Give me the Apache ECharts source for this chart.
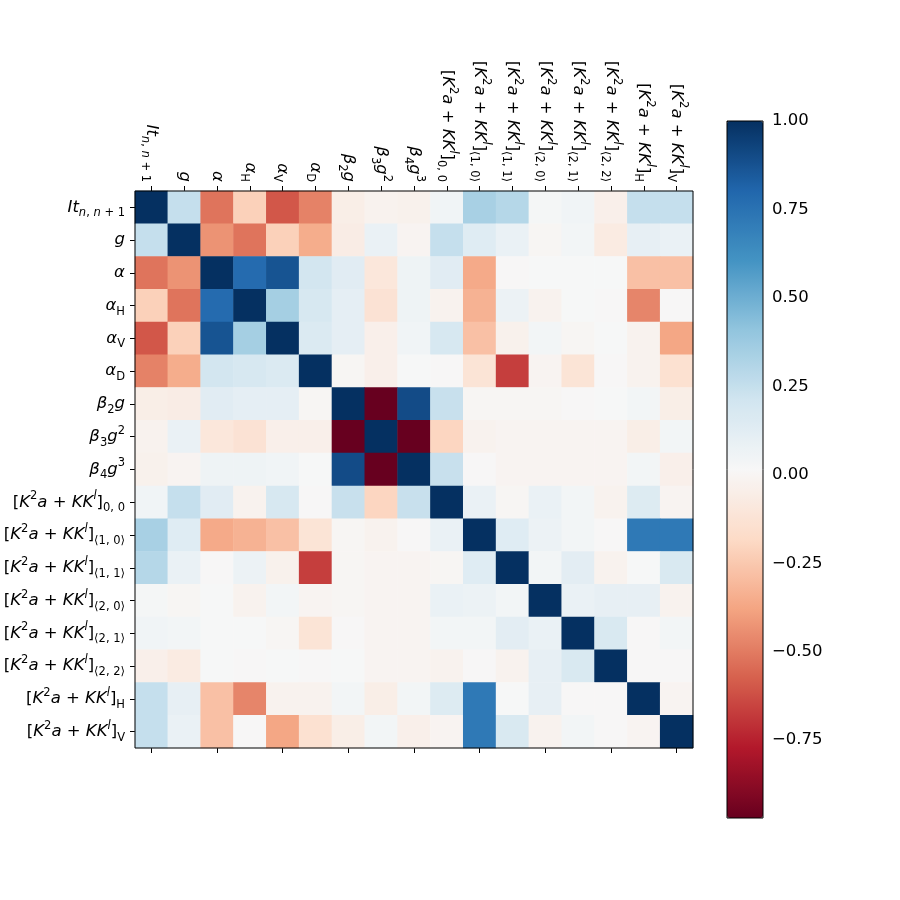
<!DOCTYPE html>
<html>
<head>
<meta charset="utf-8">
<script src="https://cdn.jsdelivr.net/npm/echarts@6/dist/echarts.min.js"></script>
<style>
  html, body { margin: 0; padding: 0; background: #fff; }
  #chart { width: 900px; height: 900px; }
</style>
</head>
<body>
<div id="chart"></div>
<script>
// variable names (row/column order of the matrix)
var categories = ['It', 'g', 'alpha', 'alphaH', 'alphaV', 'alphaD', 'b2g', 'b3g2', 'b4g3',
  'K00', 'K10', 'K11', 'K20', 'K21', 'K22', 'KH', 'KV'];

// tick labels, rich-text markup for the math
var KK = '{r|[}{i|K}{pr|2}{i|a}{r| + }{i|KK}{pi|l}{r|]}';
var tickLabels = [
  '{i|It}{si|n}{sr|, }{si|n}{sr| + 1}',
  '{i|g}',
  '{i|α}',
  '{i|α}{sr|H}',
  '{i|α}{sr|V}',
  '{i|α}{sr|D}',
  '{i|β}{sr|2}{i|g}',
  '{i|β}{sr|3}{i|g}{pr|2}',
  '{i|β}{sr|4}{i|g}{pr|3}',
  KK + '{sr|0, 0}',
  KK + '{sr|⟨1, 0⟩}',
  KK + '{sr|⟨1, 1⟩}',
  KK + '{sr|⟨2, 0⟩}',
  KK + '{sr|⟨2, 1⟩}',
  KK + '{sr|⟨2, 2⟩}',
  KK + '{sr|H}',
  KK + '{sr|V}'
];

// correlation matrix
var row0  = [1, 0.25, -0.52, -0.22, -0.6, -0.48, -0.05, -0.02, -0.03, 0.05, 0.34, 0.3, 0.03, 0.05, -0.04, 0.25, 0.25];
var row1  = [0.25, 1, -0.43, -0.52, -0.22, -0.35, -0.06, 0.08, -0.01, 0.25, 0.14, 0.08, 0.0, 0.04, -0.07, 0.1, 0.08];
var row2  = [-0.52, -0.43, 1, 0.78, 0.87, 0.2, 0.13, -0.1, 0.06, 0.13, -0.36, 0.01, 0.02, 0.02, 0.02, -0.28, -0.28];
var row3  = [-0.22, -0.52, 0.78, 1, 0.35, 0.18, 0.11, -0.13, 0.06, -0.02, -0.33, 0.07, -0.02, 0.02, 0.01, -0.47, 0.01];
var row4  = [-0.6, -0.22, 0.87, 0.35, 1, 0.16, 0.11, -0.04, 0.05, 0.18, -0.28, -0.03, 0.04, 0.0, 0.02, -0.02, -0.37];
var row5  = [-0.48, -0.35, 0.2, 0.18, 0.16, 1, 0.0, -0.04, 0.02, 0.01, -0.12, -0.67, -0.01, -0.12, 0.01, -0.02, -0.14];
var row6  = [-0.05, -0.06, 0.13, 0.11, 0.11, 0.0, 1, -0.97, 0.9, 0.24, 0.0, 0.0, 0.0, 0.01, 0.02, 0.04, -0.05];
var row7  = [-0.02, 0.08, -0.1, -0.13, -0.04, -0.04, -0.97, 1, -0.97, -0.2, -0.02, -0.01, -0.01, -0.01, -0.01, -0.05, 0.04];
var row8  = [-0.03, -0.01, 0.06, 0.06, 0.05, 0.02, 0.9, -0.97, 1, 0.24, 0.01, -0.01, -0.01, -0.01, -0.01, 0.04, -0.04];
var row9  = [0.05, 0.25, 0.13, -0.02, 0.18, 0.01, 0.24, -0.2, 0.24, 1, 0.08, 0.0, 0.08, 0.04, -0.02, 0.15, -0.01];
var row10 = [0.34, 0.14, -0.36, -0.33, -0.28, -0.12, 0.0, -0.02, 0.01, 0.08, 1, 0.14, 0.07, 0.04, 0.01, 0.72, 0.72];
var row11 = [0.3, 0.08, 0.01, 0.07, -0.03, -0.67, 0.0, -0.01, -0.01, 0.0, 0.14, 1, 0.04, 0.12, -0.02, 0.02, 0.17];
var row12 = [0.03, 0.0, 0.02, -0.02, 0.04, -0.01, 0.0, -0.01, -0.01, 0.08, 0.07, 0.04, 1, 0.08, 0.1, 0.1, -0.02];
var row13 = [0.05, 0.04, 0.02, 0.02, 0.0, -0.12, 0.01, -0.01, -0.01, 0.04, 0.04, 0.12, 0.08, 1, 0.17, 0.01, 0.04];
var row14 = [-0.04, -0.07, 0.02, 0.01, 0.02, 0.01, 0.02, -0.01, -0.01, -0.02, 0.01, -0.02, 0.1, 0.17, 1, 0.01, 0.01];
var row15 = [0.25, 0.1, -0.28, -0.47, -0.02, -0.02, 0.04, -0.05, 0.04, 0.15, 0.72, 0.02, 0.1, 0.01, 0.01, 1, -0.01];
var row16 = [0.25, 0.08, -0.28, 0.01, -0.37, -0.14, -0.05, 0.04, -0.04, -0.01, 0.72, 0.17, -0.02, 0.04, 0.01, -0.01, 1];
var matrix = [row0, row1, row2, row3, row4, row5, row6, row7, row8, row9, row10, row11, row12, row13, row14, row15, row16];

// colour scale limits and colorbar ticks
var vmin = -0.97;
var vmax = 1.0;
var cbTicks = [-0.75, -0.5, -0.25, 0, 0.25, 0.5, 0.75, 1.0];

// RdBu
var rdbu = ['#67001f', '#b2182b', '#d6604d', '#f4a582', '#fddbc7', '#f7f7f7',
  '#d1e5f0', '#92c5de', '#4393c3', '#2166ac', '#053061'];

var data = [];
for (var r = 0; r < matrix.length; r++) {
  for (var c = 0; c < matrix[r].length; c++) {
    data.push([c, r, matrix[r][c]]);
  }
}

var FONT = 'DejaVu Sans';
var FS = 16.5;
var SFS = 11.5;
var rich = {
  i:  { fontFamily: FONT, fontSize: FS, fontStyle: 'italic', color: '#000', lineHeight: 24 },
  r:  { fontFamily: FONT, fontSize: FS, color: '#000', lineHeight: 24 },
  si: { fontFamily: FONT, fontSize: SFS, fontStyle: 'italic', color: '#000', lineHeight: 12, verticalAlign: 'bottom' },
  sr: { fontFamily: FONT, fontSize: SFS, color: '#000', lineHeight: 12, verticalAlign: 'bottom' },
  pr: { fontFamily: FONT, fontSize: SFS, color: '#000', lineHeight: 12, verticalAlign: 'top' },
  pi: { fontFamily: FONT, fontSize: SFS, fontStyle: 'italic', color: '#000', lineHeight: 12, verticalAlign: 'top' }
};

function labelOf(v, i) {
  return tickLabels[i];
}

var tick = { show: true, alignWithLabel: true, length: 5, lineStyle: { color: '#000', width: 1 } };

var chart = echarts.init(document.getElementById('chart'), null, { renderer: 'canvas' });

var option = {
  backgroundColor: '#ffffff',
  animation: false,
  grid: [
    { left: 135, top: 191, width: 558, height: 557, show: true, z: 5, containLabel: false,
      outerBoundsMode: 'none',
      borderColor: '#000', borderWidth: 1, backgroundColor: 'transparent' },
    { left: 727, top: 121, width: 36, height: 697, show: true, z: 5, containLabel: false,
      outerBoundsMode: 'none',
      borderColor: '#000', borderWidth: 1, backgroundColor: 'transparent' }
  ],
  xAxis: [
    { type: 'category', gridIndex: 0, position: 'top', data: categories,
      axisLine: { show: false }, axisTick: tick, splitLine: { show: false },
      axisLabel: { rotate: 90, margin: 9, interval: 0, hideOverlap: false,
        width: 300, overflow: 'none', formatter: labelOf, rich: rich } },
    { type: 'category', gridIndex: 0, position: 'bottom', data: categories,
      axisLine: { show: false }, axisTick: tick, axisLabel: { show: false }, splitLine: { show: false } },
    { type: 'value', gridIndex: 1, show: false, min: 0, max: 1 }
  ],
  yAxis: [
    { type: 'category', gridIndex: 0, position: 'left', inverse: true, data: categories,
      axisLine: { show: false }, axisTick: tick, splitLine: { show: false },
      axisLabel: { margin: 10, interval: 0, width: 300, overflow: 'none', formatter: labelOf, rich: rich } },
    { type: 'value', gridIndex: 1, position: 'right', min: vmin, max: vmax,
      axisLine: { show: false }, splitLine: { show: false },
      axisTick: { show: true, length: 5, lineStyle: { color: '#000', width: 1 }, customValues: cbTicks },
      axisLabel: { margin: 9, fontFamily: FONT, fontSize: FS, color: '#000', customValues: cbTicks,
        formatter: function (v) { return v.toFixed(2).replace('-', '\u2212'); } } }
  ],
  visualMap: {
    type: 'continuous',
    seriesIndex: 0,
    min: vmin,
    max: vmax,
    calculable: false,
    hoverLink: false,
    orient: 'vertical',
    left: 727,
    top: 121,
    padding: 0,
    itemWidth: 36,
    itemHeight: 697,
    text: null,
    showLabel: false,
    inRange: { color: rdbu }
  },
  series: [
    { type: 'heatmap', xAxisIndex: 0, yAxisIndex: 0, data: data,
      itemStyle: { borderWidth: 0 }, emphasis: { disabled: true } },
    { type: 'line', xAxisIndex: 2, yAxisIndex: 1, data: [], silent: true }
  ]
};

chart.setOption(option);
</script>
</body>
</html>
